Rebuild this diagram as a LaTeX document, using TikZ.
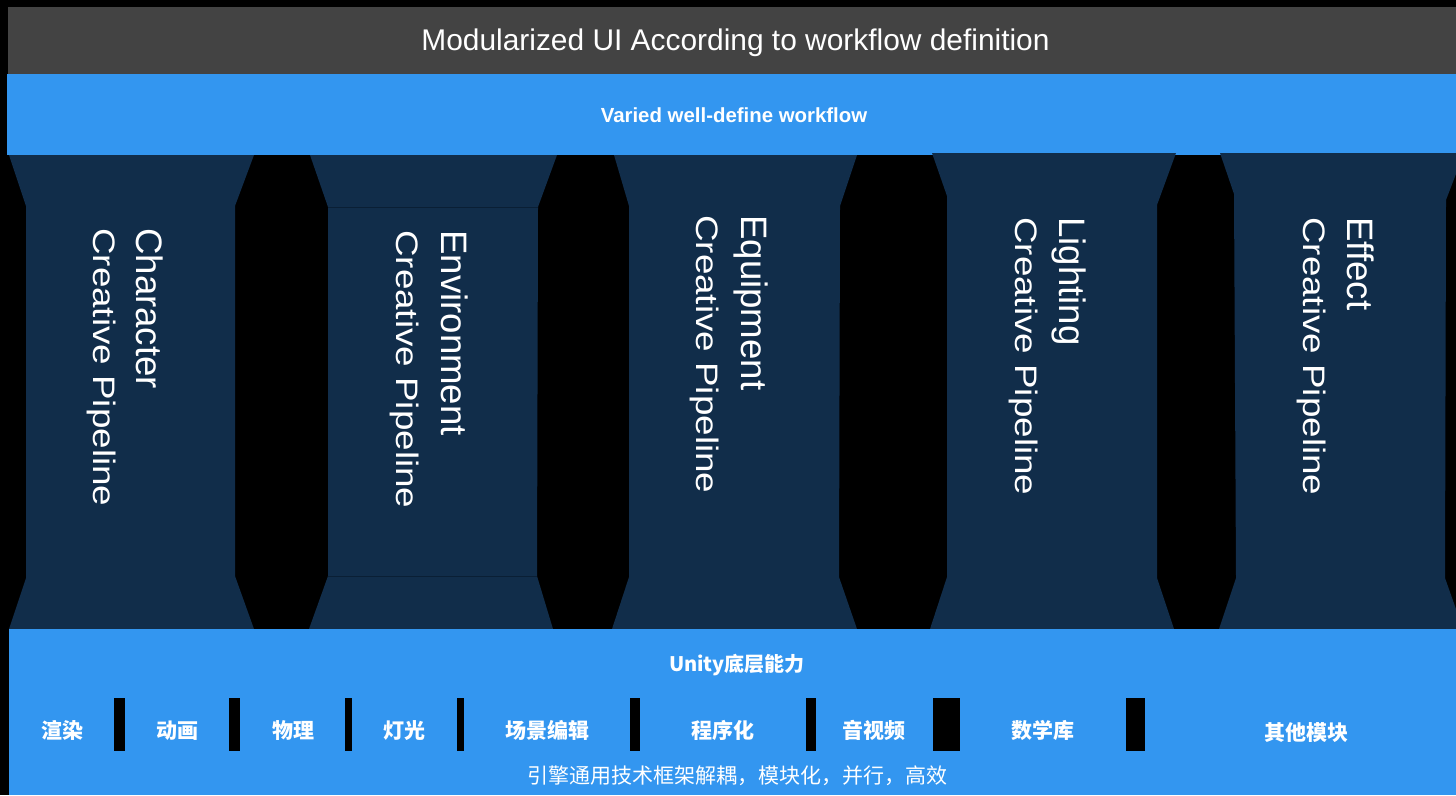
\documentclass[tikz,border=0pt]{standalone}
\usepackage{fontspec}
\setmainfont{Liberation Sans}
\newfontfamily\cjk{Noto Sans CJK SC}
\definecolor{gbar}{HTML}{434343}
\definecolor{bbar}{HTML}{3396F0}
\definecolor{navy}{HTML}{112D4A}
\definecolor{navyline}{HTML}{0A1F35}
\tikzset{
  ptxt/.style={rotate=-90, anchor=base west, inner sep=0pt, text=white, font=\fontsize{32}{38}\selectfont},
  lab/.style={anchor=base, inner sep=0pt, text=white, font=\cjk\bfseries\fontsize{21}{25}\selectfont},
  sepbar/.style={fill=black},
  pil/.style={fill=navy}
}
\newcommand{\lineA}[1]{\scalebox{1.145}[1.15]{#1}}
\newcommand{\lineB}[1]{\scalebox{1.15}[0.97]{#1}}
\begin{document}
\begin{tikzpicture}[x=1pt,y=-1pt]
\useasboundingbox (0,0) rectangle (1456,795);
\clip (0,0) rectangle (1456,795);
\fill[black] (0,0) rectangle (1456,795);
\fill[gbar] (8,7) rectangle (1456,74);
\fill[bbar] (7,74) rectangle (1456,155);
% pillars
\fill[pil] (9,155) -- (254,155) -- (235,206) -- (235,576) -- (254,629) -- (9,629) -- (26,578) -- (26,206) -- cycle;
\fill[pil] (310,155) -- (557,155) -- (538,207) -- (537,576) -- (553,629) -- (309,629) -- (328,576) -- (328,207) -- cycle;
\draw[navyline, line width=0.8pt] (328,207) -- (538,207) (328,576) -- (537,576);
\fill[pil] (614,155) -- (857,155) -- (840,206) -- (839,577) -- (857,629) -- (612,629) -- (629,577) -- (629,206) -- cycle;
\fill[pil] (932,153) -- (1176,153) -- (1157,205) -- (1157,578) -- (1174,629) -- (930,629) -- (947,577) -- (947,196) -- cycle;
\fill[pil] (1220,153) -- (1464,153) -- (1446,200) -- (1445,578) -- (1463,629) -- (1219,629) -- (1236,578) -- (1234,194) -- cycle;
% bottom block
\fill[bbar] (9,629) rectangle (1456,795);
\fill[sepbar] (114,698) rectangle (125,751);
\fill[sepbar] (229,698) rectangle (240,751);
\fill[sepbar] (345,698) rectangle (352,751);
\fill[sepbar] (457,698) rectangle (464,751);
\fill[sepbar] (630,698) rectangle (640,751);
\fill[sepbar] (806,698) rectangle (816,751);
\fill[sepbar] (933,698) rectangle (960,751);
\fill[sepbar] (1126,698) rectangle (1145,751);
% texts
\node[anchor=base, inner sep=0pt, text=white, font=\fontsize{29.9}{36}\selectfont] (title) at (735.5,50.5) {Modularized UI According to workflow definition};
\node[anchor=base, inner sep=0pt, text=white, font=\bfseries\fontsize{20.4}{24}\selectfont] (flow) at (734,122.5) {Varied well-define workflow};
\node[ptxt] (p1a) at (136.7,228) {\lineA{Character}};
\node[ptxt] (p1b) at (93.3,228) {\lineB{Creative Pipeline}};
\node[ptxt] (p2a) at (441,230) {\lineA{Environment}};
\node[ptxt] (p2b) at (396,230) {\lineB{Creative Pipeline}};
\node[ptxt] (p3a) at (741,215) {\lineA{Equipment}};
\node[ptxt] (p3b) at (696,215) {\lineB{Creative Pipeline}};
\node[ptxt] (p4a) at (1059,217) {\lineA{Lighting}};
\node[ptxt] (p4b) at (1015,217) {\lineB{Creative Pipeline}};
\node[ptxt] (p5a) at (1347,217) {\lineA{Effect}};
\node[ptxt] (p5b) at (1303,217) {\lineB{Creative Pipeline}};
\node[lab, font=\cjk\bfseries\fontsize{20}{24}\selectfont] (unity) at (737,671) {Unity底层能力};
\node[lab] (l1) at (62,738) {渲染};
\node[lab] (l2) at (177,738) {动画};
\node[lab] (l3) at (293,738) {物理};
\node[lab] (l4) at (404,738) {灯光};
\node[lab] (l5) at (547,738) {场景编辑};
\node[lab] (l6) at (723,738) {程序化};
\node[lab] (l7) at (874,738) {音视频};
\node[lab] (l8) at (1043,738) {数学库};
\node[lab] (l9) at (1306,740) {其他模块};
\node[anchor=base, inner sep=0pt, text=white, font=\cjk\fontsize{21}{25}\selectfont] (foot) at (737,783) {引擎通用技术框架解耦，模块化，并行，高效};
\end{tikzpicture}
\end{document}
